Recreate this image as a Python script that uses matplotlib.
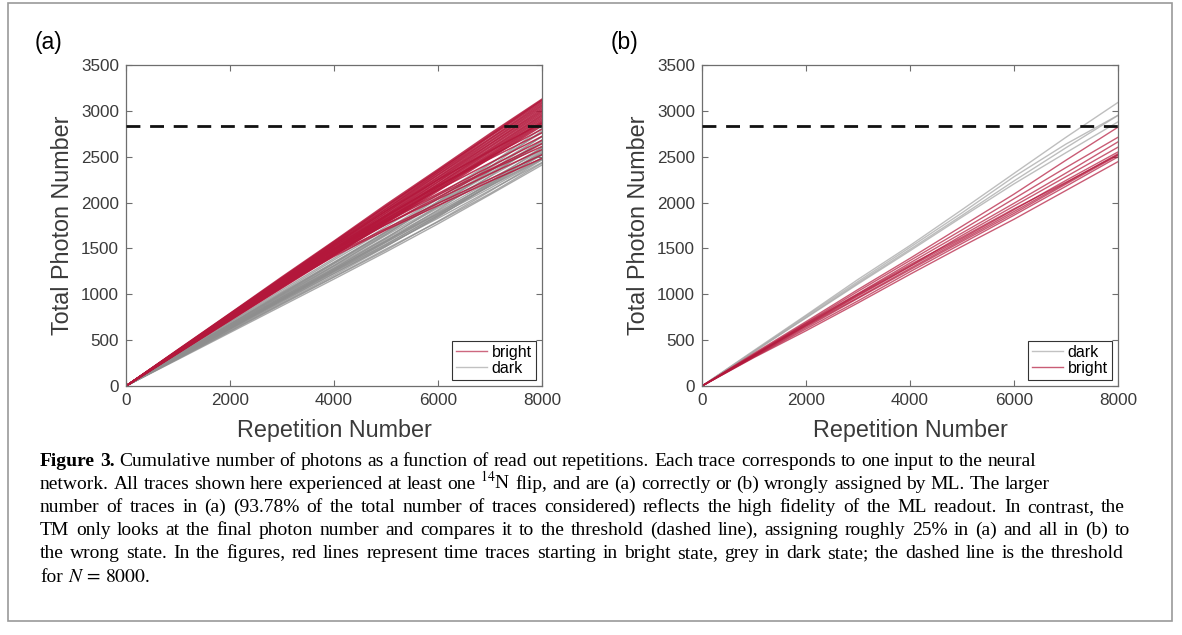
import numpy as np
import matplotlib
matplotlib.use('Agg')
from matplotlib import pyplot as plt
from matplotlib.patches import Rectangle
from matplotlib.lines import Line2D

plt.rcParams['font.family'] = ['Liberation Sans', 'DejaVu Sans']
plt.rcParams['mathtext.fontset'] = 'stix'

# repetition grid (every 1000 repetitions)
reps = [0, 1000, 2000, 3000, 4000, 5000, 6000, 7000, 8000]

# panel (a): correctly assigned traces
red_a = [
    [0, 398, 792, 1190, 1580, 1978, 2362, 2752, 3128],
    [0, 392, 788, 1176, 1572, 1958, 2350, 2728, 3112],
    [0, 394, 784, 1180, 1566, 1964, 2344, 2738, 3118],
    [0, 390, 778, 1172, 1556, 1948, 2330, 2720, 3096],
    [0, 386, 776, 1160, 1552, 1932, 2322, 2700, 3082],
    [0, 388, 770, 1158, 1540, 1928, 2306, 2690, 3066],
    [0, 380, 768, 1148, 1536, 1912, 2298, 2672, 3052],
    [0, 384, 760, 1146, 1524, 1906, 2280, 2660, 3036],
    [0, 378, 762, 1136, 1518, 1890, 2272, 2642, 3020],
    [0, 376, 752, 1132, 1504, 1884, 2256, 2634, 3004],
    [0, 381, 750, 1122, 1498, 1868, 2248, 2616, 2990],
    [0, 372, 748, 1118, 1488, 1862, 2230, 2604, 2974],
    [0, 370, 740, 1112, 1482, 1848, 2222, 2586, 2958],
    [0, 369, 739, 1104, 1474, 1842, 2204, 2574, 2944],
    [0, 373, 734, 1102, 1464, 1830, 2198, 2560, 2928],
    [0, 365, 731, 1094, 1458, 1818, 2184, 2548, 2912],
    [0, 362, 728, 1092, 1448, 1812, 2168, 2532, 2896],
    [0, 367, 724, 1084, 1442, 1798, 2162, 2518, 2882],
    [0, 360, 722, 1080, 1434, 1792, 2148, 2508, 2866],
    [0, 357, 716, 1076, 1430, 1784, 2142, 2494, 2852],
    [0, 363, 714, 1068, 1422, 1774, 2126, 2482, 2836],
    [0, 386, 770, 1152, 1502, 1802, 2098, 2392, 2680],
    [0, 380, 762, 1138, 1482, 1788, 2082, 2362, 2642],
    [0, 376, 754, 1122, 1458, 1762, 2038, 2312, 2578],
    [0, 372, 746, 1100, 1432, 1718, 1992, 2258, 2522],
    [0, 370, 738, 1092, 1414, 1702, 1968, 2232, 2482],
    [0, 378, 752, 1132, 1492, 1822, 2138, 2432, 2722],
    [0, 382, 766, 1144, 1522, 1858, 2182, 2478, 2762],
    [0, 368, 736, 1096, 1438, 1762, 2058, 2352, 2612],
    [0, 384, 772, 1156, 1540, 1908, 2248, 2562, 2868],
    [0, 374, 750, 1126, 1494, 1850, 2180, 2500, 2800],
]
grey_a = [
    [0, 352, 700, 1048, 1392, 1738, 2082, 2424, 2762],
    [0, 344, 692, 1030, 1374, 1708, 2048, 2378, 2718],
    [0, 341, 678, 1018, 1350, 1684, 2008, 2344, 2668],
    [0, 334, 672, 998, 1332, 1658, 1988, 2308, 2642],
    [0, 331, 658, 992, 1314, 1642, 1958, 2284, 2598],
    [0, 327, 654, 976, 1302, 1618, 1942, 2252, 2572],
    [0, 326, 646, 970, 1284, 1604, 1912, 2232, 2544],
    [0, 319, 641, 956, 1274, 1582, 1898, 2202, 2518],
    [0, 318, 630, 946, 1256, 1570, 1872, 2184, 2488],
    [0, 313, 629, 936, 1248, 1548, 1858, 2156, 2472],
    [0, 309, 618, 926, 1228, 1532, 1828, 2134, 2438],
    [0, 290, 582, 874, 1166, 1462, 1768, 2086, 2410],
    [0, 300, 598, 898, 1192, 1494, 1790, 2098, 2430],
    [0, 312, 626, 934, 1242, 1542, 1862, 2222, 2602],
    [0, 317, 636, 948, 1266, 1578, 1922, 2288, 2682],
    [0, 307, 616, 918, 1226, 1524, 1842, 2198, 2562],
    [0, 323, 644, 966, 1286, 1612, 1958, 2342, 2722],
    [0, 329, 660, 984, 1312, 1652, 2012, 2388, 2782],
    [0, 302, 606, 906, 1208, 1520, 1848, 2184, 2526],
    [0, 336, 670, 1004, 1338, 1680, 2040, 2418, 2810],
    [0, 322, 638, 958, 1270, 1590, 1880, 2178, 2476],
    [0, 296, 594, 890, 1186, 1480, 1796, 2124, 2466],
    [0, 338, 676, 1012, 1346, 1672, 1998, 2322, 2652],
    [0, 315, 632, 944, 1254, 1566, 1886, 2212, 2540],
]

# panel (b): wrongly assigned traces
grey_b = [
    [0, 388, 772, 1162, 1532, 1922, 2318, 2712, 3092],
    [0, 380, 762, 1140, 1512, 1888, 2282, 2638, 2952],
    [0, 376, 742, 1112, 1474, 1842, 2204, 2544, 2880],
    [0, 372, 748, 1124, 1490, 1860, 2236, 2598, 2950],
]
red_b = [
    [0, 356, 702, 1052, 1392, 1742, 2092, 2462, 2822],
    [0, 346, 688, 1032, 1368, 1702, 2042, 2382, 2712],
    [0, 341, 682, 1008, 1342, 1668, 1992, 2322, 2662],
    [0, 334, 666, 992, 1308, 1642, 1962, 2282, 2604],
    [0, 331, 658, 982, 1302, 1608, 1922, 2242, 2552],
    [0, 326, 652, 964, 1282, 1592, 1902, 2214, 2532],
    [0, 320, 638, 956, 1268, 1576, 1882, 2202, 2516],
    [0, 316, 622, 928, 1246, 1554, 1862, 2178, 2498],
    [0, 310, 602, 906, 1218, 1522, 1818, 2132, 2446],
    [0, 336, 672, 1002, 1322, 1622, 1932, 2222, 2522],
]

threshold = 2830
red = '#B3173B'
grey = '#8E8E8E'
axcol = '#6E6E6E'
txtcol = '#3A3A3A'

W, H = 1182, 635
fig = plt.figure(figsize=(W / 100, H / 100), dpi=100)
fig.patches.append(Rectangle((8 / W, 1 - 621 / H), 1164 / W, 618 / H,
                             transform=fig.transFigure, fill=False,
                             edgecolor='#9A9A9A', linewidth=1.2))


def style_axes(ax):
    ax.set_xlim(0, 8000)
    ax.set_ylim(0, 3500)
    ax.set_xticks([0, 2000, 4000, 6000, 8000])
    ax.set_yticks(np.arange(0, 3501, 500))
    ax.tick_params(direction='in', top=True, right=True, length=4,
                   width=0.8, color=axcol, labelcolor=txtcol,
                   labelsize=12.3, pad=5)
    for s in ax.spines.values():
        s.set_color(axcol)
        s.set_linewidth(0.9)
    ax.set_xlabel('Repetition Number', fontsize=16.8, color=txtcol, labelpad=8)
    ax.set_ylabel('Total Photon Number', fontsize=16.8, color=txtcol, labelpad=5)
    ax.axhline(threshold, color='#111111', lw=2, dashes=(5, 3.5), zorder=5)


def add_legend(ax, handles, labels):
    leg = ax.legend(handles, labels, loc='lower right', fontsize=11.5,
                    fancybox=False, edgecolor='#333333', framealpha=1,
                    handlelength=1.9, handletextpad=0.3, borderpad=0.25,
                    labelspacing=0.05, borderaxespad=0.4)
    leg.get_frame().set_linewidth(0.8)


ax1 = fig.add_axes([126 / W, 1 - 386 / H, 416 / W, 321 / H])
for tr in grey_a:
    ax1.plot(reps, tr, color=grey, lw=1.0, alpha=0.75)
for tr in red_a:
    ax1.plot(reps, tr, color=red, lw=1.1, alpha=0.85)
style_axes(ax1)
add_legend(ax1, [Line2D([], [], color=red, lw=1, alpha=0.65),
                 Line2D([], [], color=grey, lw=1, alpha=0.55)], ['bright', 'dark'])

ax2 = fig.add_axes([702 / W, 1 - 386 / H, 416 / W, 321 / H])
for tr in grey_b:
    ax2.plot(reps, tr, color='#A8A8A8', lw=1.0, alpha=0.75)
for tr in red_b:
    ax2.plot(reps, tr, color=red, lw=1.0, alpha=0.7)
style_axes(ax2)
add_legend(ax2, [Line2D([], [], color='#A8A8A8', lw=1, alpha=0.7),
                 Line2D([], [], color=red, lw=1, alpha=0.7)], ['dark', 'bright'])

fig.text(35 / W, 1 - 43 / H, '(a)', fontsize=16.5, va='center', ha='left')
fig.text(611 / W, 1 - 43 / H, '(b)', fontsize=16.5, va='center', ha='left')

# caption, set word by word; the long lines are justified as in the reference
cap_font = ['Liberation Serif', 'DejaVu Serif']
cap_lines = [
    'Figure 3. Cumulative number of photons as a function of read out repetitions. Each trace corresponds to one input to the neural',
    'network. All traces shown here experienced at least one $^{14}$N flip, and are (a) correctly or (b) wrongly assigned by ML. The larger',
    'number of traces in (a) (93.78% of the total number of traces considered) reflects the high fidelity of the ML readout. In contrast, the',
    'TM only looks at the final photon number and compares it to the threshold (dashed line), assigning roughly 25% in (a) and all in (b) to',
    'the wrong state. In the figures, red lines represent time traces starting in bright state, grey in dark state; the dashed line is the threshold',
    r'for $N\,=\,8000$.',
]
cap_base = [466, 489, 512, 535, 558, 582]
cap_right = [None, None, 1125, 1130, 1124, None]
cs = 14.0
renderer = fig.canvas.get_renderer()


def width_of(s):
    t = fig.text(0, 0, s, fontsize=cs, family=cap_font)
    w = t.get_window_extent(renderer).width
    t.remove()
    return w


space = width_of('a a') - width_of('aa')
for i, (line, y, xr) in enumerate(zip(cap_lines, cap_base, cap_right)):
    words = line.split(' ')
    items = []
    for j, w in enumerate(words):
        bold = (i == 0 and j < 2)
        t = fig.text(0, 1 - y / H, w, fontsize=cs, family=cap_font,
                     weight='bold' if bold else 'normal', va='baseline', ha='left')
        items.append((t, t.get_window_extent(renderer).width))
    total = sum(wd for _, wd in items)
    gap = space
    if xr is not None:
        gap = max((xr - 40 - total) / (len(items) - 1), 0.6 * space)
    x = 40.0
    for t, wd in items:
        t.set_x(x / W)
        x += wd + gap

fig.savefig('out.png', dpi=100)
